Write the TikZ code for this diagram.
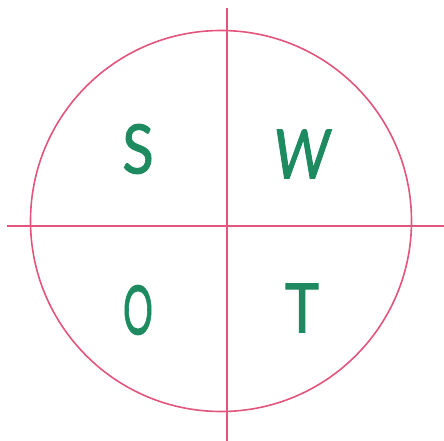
\documentclass[tikz,border=0pt]{standalone}
\usepackage{fontspec}
\setmainfont{Lato}[FakeBold=1.5]
\definecolor{rosa}{HTML}{E2557C}
\definecolor{verde}{HTML}{1D8A60}
\begin{document}
\begin{tikzpicture}[x=1pt,y=-1pt,
  axis/.style={draw=rosa,line width=1.6pt},
  letter/.style={text=verde,font=\fontsize{68}{68}\selectfont,inner sep=0pt}]
\useasboundingbox (0,0) rectangle (444,441);
\draw[axis] (221,221) circle[radius=190.5];
\coordinate (top) at (227,8);
\coordinate (bot) at (227,441);
\coordinate (lft) at (7,226);
\coordinate (rgt) at (444,226);
\draw[axis] (top) -- (bot);
\draw[axis] (lft) -- (rgt);
\node[letter,xscale=0.85] (s) at (138,149) {S};
\node[letter,xscale=0.8,xslant=0.12] (w) at (302,154) {W};
\node[letter,xscale=0.55] (o) at (138,310) {O};
\node[letter,xscale=0.85] (t) at (302,308) {T};
\end{tikzpicture}
\end{document}
